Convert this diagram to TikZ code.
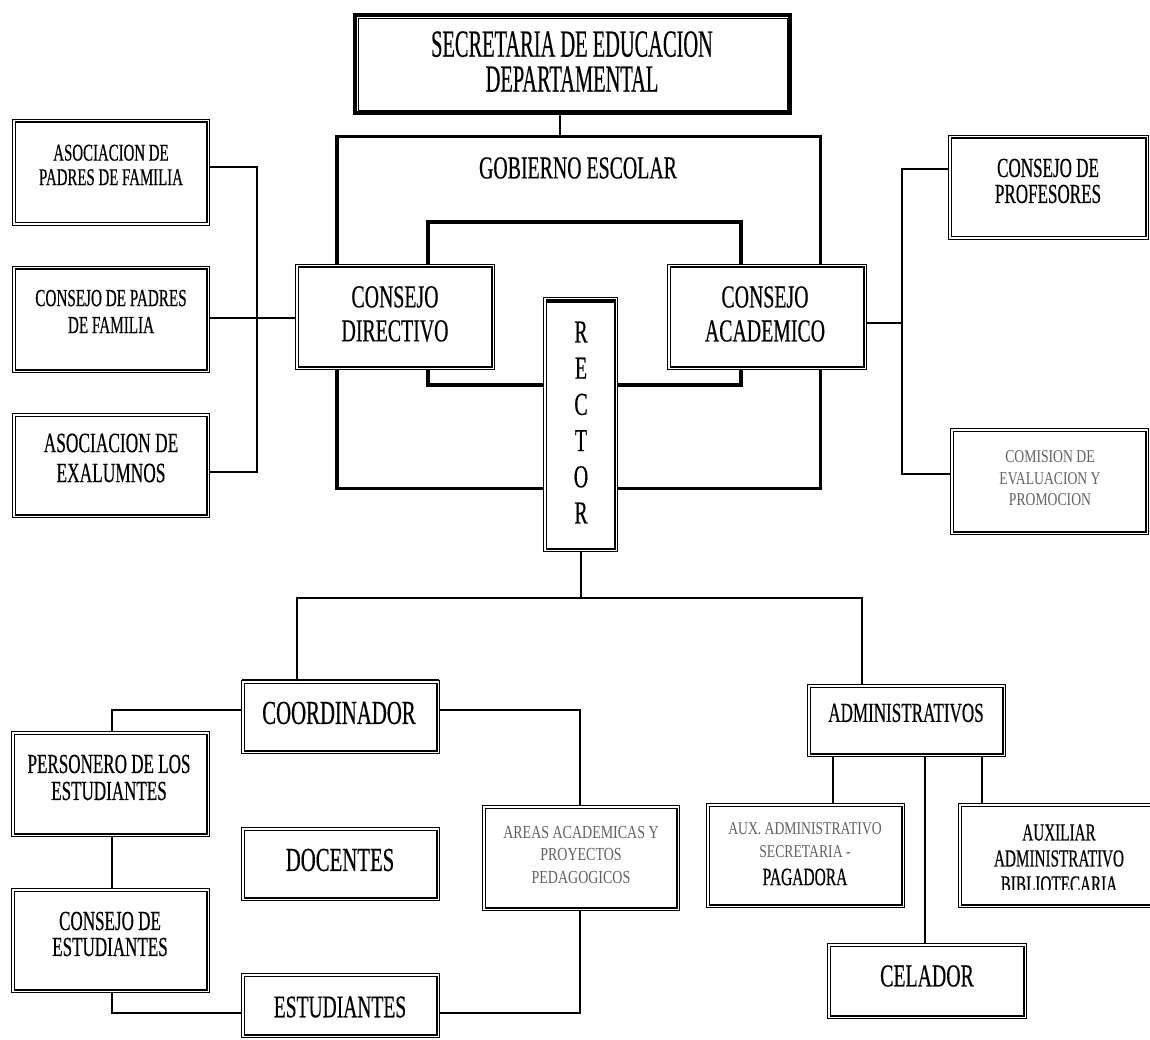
\documentclass[tikz,border=0pt]{standalone}
\usepackage{fontspec}
\setmainfont{Liberation Serif}[FakeStretch=0.62,FakeBold=0.4]
\newfontfamily\grayf{Liberation Serif}[FakeStretch=0.76]
\newfontfamily\secf{Liberation Serif}[FakeStretch=0.53,FakeBold=0.4]
\newcommand\fsz[2]{\fontsize{#1}{#2}\selectfont}
\begin{document}
\begin{tikzpicture}[x=1pt,y=-1pt,
  conn/.style={line width=1.2pt},
  thk/.style={line width=3.5pt},
  dbox/.style={draw, double=white, double distance=1.4pt, line width=1.1pt, fill=white, inner sep=0pt},
  txt/.style={align=center, inner sep=0pt},
  gtxt/.style={align=center, inner sep=0pt, text=black!62}]
\useasboundingbox (0,0) rectangle (1150,1040);
\fill[white] (0,0) rectangle (1150,1040);

% --- gobierno escolar frame
\node[thk, draw, minimum width=483.5pt, minimum height=351.5pt] (gob) at (578.5,312.5) {};

% --- coordinates for junctions
\coordinate (jS) at (560,125);
\coordinate (iTL) at (428,222); \coordinate (iTR) at (741,222);
\coordinate (iBL) at (428,385); \coordinate (iBR) at (741,385);
\coordinate (jL1) at (257,167); \coordinate (jLm) at (257,318); \coordinate (jL3) at (257,472);
\coordinate (jR1) at (902,169); \coordinate (jRm) at (902,323); \coordinate (jR3) at (902,474);
\coordinate (jT) at (581,598); \coordinate (jTL) at (297,598); \coordinate (jTR) at (862,598);
\coordinate (jC1) at (112,710); \coordinate (jC2) at (112,1013);
\coordinate (jC3) at (580,710); \coordinate (jC4) at (580,1013);
\coordinate (jA1) at (833,780); \coordinate (jA2) at (925,780); \coordinate (jA3) at (982,780);

% --- boxes
\node[draw, line width=4pt, fill=white, minimum width=435pt, minimum height=98pt] (sec) at (572.5,64) {};
\node[dbox, minimum width=196.4pt, minimum height=102.4pt] (cd) at (395,317) {};
\node[dbox, minimum width=196.4pt, minimum height=102.4pt] (ca) at (767,317) {};
\node[dbox, minimum width=71.4pt, minimum height=251.4pt] (rec) at (580.5,424.5) {};
\node[dbox, minimum width=194.4pt, minimum height=103.4pt] (ap) at (111,172.5) {};
\node[dbox, minimum width=194.4pt, minimum height=103.4pt] (cp) at (111,319.5) {};
\node[dbox, minimum width=194.4pt, minimum height=101.4pt] (ae) at (111,465.5) {};
\node[dbox, minimum width=197.4pt, minimum height=101.4pt] (prof) at (1048.5,187.5) {};
\node[dbox, minimum width=195.4pt, minimum height=103.4pt] (com) at (1049.5,481.5) {};
\node[dbox, minimum width=195.4pt, minimum height=70.4pt] (coord) at (340.5,717) {};
\node[dbox, minimum width=195.4pt, minimum height=102.4pt] (pers) at (110.5,784) {};
\node[dbox, minimum width=195.4pt, minimum height=101.4pt] (cest) at (110.5,940.5) {};
\node[dbox, minimum width=195.4pt, minimum height=70.4pt] (doc) at (340.5,864) {};
\node[dbox, minimum width=195.4pt, minimum height=61.4pt] (est) at (340.5,1005.5) {};
\node[dbox, minimum width=194.4pt, minimum height=102.4pt] (areas) at (581,858) {};
\node[dbox, minimum width=195.4pt, minimum height=69.4pt] (adm) at (906.5,720.5) {};
\node[dbox, minimum width=195.4pt, minimum height=101.4pt] (aux) at (805.5,855.5) {};
\node[dbox, minimum width=203.4pt, minimum height=101.4pt] (auxb) at (1061.5,855.5) {};
\node[dbox, minimum width=196.4pt, minimum height=72.4pt] (cel) at (927,981) {};

% --- connectors
\draw[thk] (cd.north -| iTL) -- (iTL) -- (iTR) -- (ca.north -| iTR);
\draw[thk] (cd.south -| iBL) -- (iBL) -- (rec.west |- iBL);
\draw[thk] (rec.east |- iBR) -- (iBR) -- (ca.south -| iBR);
\draw[conn] (sec.south -| jS) -- (gob.north -| jS);
\draw[conn] (ap.east |- jL1) -- (jL1) -- (jL3) -- (ae.east |- jL3);
\draw[conn] (cp.east |- jLm) -- (cd.west |- jLm);
\draw[conn] (prof.west |- jR1) -- (jR1) -- (jR3) -- (com.west |- jR3);
\draw[conn] (ca.east |- jRm) -- (jRm);
\draw[conn] (rec.south -| jT) -- (jT);
\draw[conn] (coord.north -| jTL) -- (jTL) -- (jTR) -- (adm.north -| jTR);
\draw[conn] (coord.west |- jC1) -- (jC1) -- (pers.north -| jC1);
\draw[conn] (pers.south -| jC1) -- (cest.north -| jC1);
\draw[conn] (cest.south -| jC2) -- (jC2) -- (est.west |- jC2);
\draw[conn] (coord.east |- jC3) -- (jC3) -- (areas.north -| jC3);
\draw[conn] (areas.south -| jC4) -- (jC4) -- (est.east |- jC4);
\draw[conn] (adm.south -| jA1) -- (aux.north -| jA1);
\draw[conn] (adm.south -| jA2) -- (cel.north -| jA2);
\draw[conn] (adm.south -| jA3) -- (auxb.north -| jA3);

% --- extra border details
\draw[line width=0.8pt] ([shift={(5,5)}]sec.north west) rectangle ([shift={(-5,-5)}]sec.south east);
\draw[line width=2.5pt] ([yshift=1.5pt]coord.north west) -- ([yshift=1.5pt]coord.north east);
\draw[line width=2pt] ([shift={(2.5,3.5)}]rec.north west) -- ([shift={(-2.5,3.5)}]rec.north east);

% --- texts
\node[txt, font={\secf\fsz{38.5}{35}}] (tsec) at (572,61.5) {SECRETARIA DE EDUCACION\\DEPARTAMENTAL};
\node[txt, font={\fsz{32}{34}}] (tgob) at (578,168) {GOBIERNO ESCOLAR};
\node[txt, font={\fsz{32}{34}}] (tcd) at (395,314) {CONSEJO\\DIRECTIVO};
\node[txt, font={\fsz{32}{34}}] (tca) at (765,314) {CONSEJO\\ACADEMICO};
\node[txt, font={\fsz{32}{36.2}}] (trec) at (581,422.5) {R\\E\\C\\T\\O\\R};
\node[txt, font={\fsz{24}{24.5}}] (tap) at (111,165) {ASOCIACION DE\\PADRES DE FAMILIA};
\node[txt, font={\fsz{24.5}{27}}] (tcp) at (111,311.5) {CONSEJO DE PADRES\\DE FAMILIA};
\node[txt, font={\fsz{28}{30}}] (tae) at (111,458) {ASOCIACION DE\\EXALUMNOS};
\node[txt, font={\fsz{27.5}{26}}] (tprof) at (1048,181) {CONSEJO DE\\PROFESORES};
\node[gtxt, font={\grayf\fsz{18}{21.5}}] (tcom) at (1050,478.5) {COMISION DE\\EVALUACION Y\\PROMOCION};
\node[txt, font={\fsz{33.5}{35}}] (tcoord) at (339,713) {COORDINADOR};
\node[txt, font={\fsz{27.5}{27}}] (tpers) at (109,777.5) {PERSONERO DE LOS\\ESTUDIANTES};
\node[txt, font={\fsz{33.5}{35}}] (tdoc) at (340,860) {DOCENTES};
\node[txt, font={\fsz{27.5}{26}}] (tcest) at (110,934) {CONSEJO DE\\ESTUDIANTES};
\node[txt, font={\fsz{31.5}{33}}] (test) at (340,1007) {ESTUDIANTES};
\node[gtxt, font={\grayf\fsz{18.4}{22.5}}] (tareas) at (581,854.5) {AREAS ACADEMICAS Y\\PROYECTOS\\PEDAGOGICOS};
\node[txt, font={\fsz{27.5}{29}}] (tadm) at (906,713) {ADMINISTRATIVOS};
\node[gtxt, font={\grayf\fsz{18}{23}}] (taux) at (805,840.5) {AUX. ADMINISTRATIVO\\SECRETARIA -};
\node[txt, font={\fsz{25}{27}}] (tpag) at (805,877) {PAGADORA};
\begin{scope}
\clip (958,803) rectangle (1150,889);
\node[txt, font={\fsz{24.5}{26}}] (tauxb) at (1059,858.5) {AUXILIAR\\ADMINISTRATIVO\\BIBLIOTECARIA};
\end{scope}
\node[txt, font={\fsz{32}{34}}] (tcel) at (927,976) {CELADOR};
\end{tikzpicture}
\end{document}
